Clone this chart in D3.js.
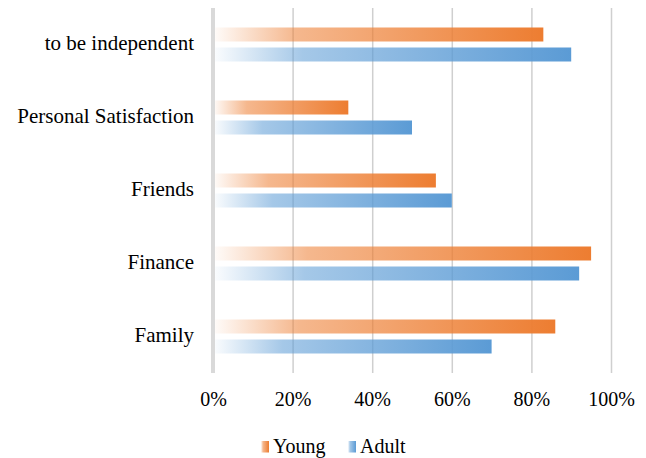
<!DOCTYPE html>
<html>
<head>
<meta charset="utf-8">
<script src="https://cdn.jsdelivr.net/npm/d3@7"></script>
<style>
  body { margin: 0; background: #fff; }
  text { font-family: "Liberation Serif", "Times New Roman", serif; fill: #000; }
</style>
</head>
<body>
<div id="chart"></div>
<script>
// data
const categories = ["to be independent", "Personal Satisfaction", "Friends", "Finance", "Family"];
const series = ["Young", "Adult"];
const young = [0.83, 0.34, 0.56, 0.95, 0.86];
const adult = [0.90, 0.50, 0.60, 0.92, 0.70];
const tickValues = [0, 0.2, 0.4, 0.6, 0.8, 1];
const colors = {Young: "#ED7D31", Adult: "#5B9BD5"};

const data = categories.map(function(c, i) {
    return {category: c, Young: young[i], Adult: adult[i]};
});

// dimensions
const margin = {top: 8, right: 35, bottom: 85, left: 213};
const width = 646 - margin.left - margin.right;
const height = 458 - margin.top - margin.bottom;

const root = d3.select("#chart")
    .append("svg")
        .attr("width", 646)
        .attr("height", 458);

// gradients: faded on the left, full colour on the right
const defs = root.append("defs");
series.forEach(function(s) {
    const g = defs.append("linearGradient")
        .attr("id", "grad-" + s)
        .attr("x1", "0").attr("x2", "1").attr("y1", "0").attr("y2", "0");
    g.append("stop").attr("offset", "0").attr("stop-color", colors[s]).attr("stop-opacity", 0.02);
    g.append("stop").attr("offset", "0.25").attr("stop-color", colors[s]).attr("stop-opacity", 0.55);
    g.append("stop").attr("offset", "1").attr("stop-color", colors[s]).attr("stop-opacity", 1);
});

const svg = root.append("g")
    .attr("transform", `translate(${margin.left}, ${margin.top})`);

// scales
const xScale = d3.scaleLinear()
    .domain([0, 1])
    .range([0, width]);

const yScale = d3.scaleBand()
    .domain(categories)
    .range([0, height])
    .padding(0);

const ySub = d3.scaleBand()
    .domain(series)
    .range([yScale.bandwidth() / 2 - 17, yScale.bandwidth() / 2 + 17])
    .paddingInner(0.3)
    .paddingOuter(0);

// gridlines
svg.append("g")
    .attr("class", "grid")
    .call(d3.axisBottom(xScale).tickValues(tickValues.slice(1)).tickSize(height).tickFormat(""))
    .call(function(g) { g.select(".domain").remove(); })
    .call(function(g) {
        g.selectAll("line")
            .attr("stroke", "#cfcfcf")
            .attr("stroke-width", 1.5);
    });

// bars
const groups = svg.selectAll(".cat")
    .data(data)
    .enter()
    .append("g")
        .attr("class", "cat")
        .attr("transform", function(d) { return `translate(0, ${yScale(d.category)})`; });

groups.selectAll("rect")
    .data(function(d) { return series.map(function(s) { return {key: s, value: d[s]}; }); })
    .enter()
    .append("rect")
        .attr("x", xScale(0))
        .attr("y", function(d) { return ySub(d.key); })
        .attr("width", function(d) { return xScale(d.value) - xScale(0); })
        .attr("height", ySub.bandwidth())
        .attr("fill", function(d) { return `url(#grad-${d.key})`; });

// vertical axis line at 0
svg.append("line")
    .attr("x1", xScale(0)).attr("x2", xScale(0))
    .attr("y1", 0).attr("y2", height)
    .attr("stroke", "#d9d9d9")
    .attr("stroke-width", 4);

// category labels
svg.append("g")
    .call(d3.axisLeft(yScale).tickSize(0).tickPadding(19))
    .call(function(g) { g.select(".domain").remove(); })
    .call(function(g) {
        g.selectAll("text")
            .attr("dy", "0.28em")
            .style("font-family", "'Liberation Serif', 'Times New Roman', serif")
            .style("font-size", "21px")
            .attr("fill", "#000");
    });

// x tick labels
svg.append("g")
    .attr("transform", `translate(0, ${height})`)
    .call(d3.axisBottom(xScale).tickValues(tickValues).tickSize(0).tickPadding(0).tickFormat(d3.format(".0%")))
    .call(function(g) { g.select(".domain").remove(); })
    .call(function(g) {
        g.selectAll("text")
            .attr("y", 33)
            .attr("dy", 0)
            .style("font-family", "'Liberation Serif', 'Times New Roman', serif")
            .style("font-size", "20px")
            .attr("fill", "#000");
    });

// legend
const legendPos = [{key: "Young", x: 261}, {key: "Adult", x: 348}];
const legend = root.append("g").attr("class", "legend");
const items = legend.selectAll("g")
    .data(legendPos)
    .enter()
    .append("g")
        .attr("transform", function(d) { return `translate(${d.x}, 441)`; });
items.append("rect")
    .attr("width", 8)
    .attr("height", 11.5)
    .attr("fill", function(d) { return `url(#grad-${d.key})`; });
items.append("text")
    .attr("x", 12)
    .attr("y", 11.5)
    .style("font-size", "20px")
    .text(function(d) { return d.key; });
</script>
</body>
</html>
